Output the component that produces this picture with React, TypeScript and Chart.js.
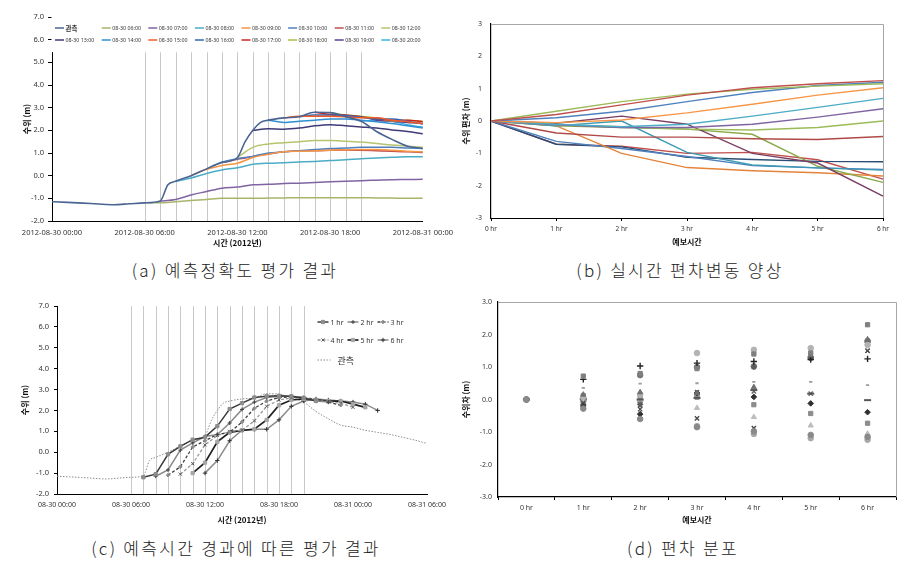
import React, { useEffect, useRef } from 'react';
import { Chart, registerables } from 'chart.js';
import { drawPoint } from 'chart.js/helpers';

Chart.register(...registerables);

const FONT = "'Noto Sans', 'Noto Sans CJK KR', sans-serif";
const KFONT = "'Noto Sans CJK KR', 'Noto Sans', sans-serif";

// ---------------- (a)/(c) observed water level ----------------
const obsHours = [0, 1, 2, 3, 4, 5, 6, 7, 7.5, 8, 9, 10, 11, 12, 12.5, 13, 13.5, 14, 15, 16, 17, 18, 19, 20, 21, 22, 23, 24, 25, 26, 27, 28, 29, 30];
const obsLevel = [-1.15, -1.18, -1.21, -1.25, -1.28, -1.24, -1.2, -1.12, -0.4, -0.25, 0.0, 0.3, 0.58, 0.8, 1.5, 2.0, 2.35, 2.45, 2.55, 2.6, 2.8, 2.78, 2.6, 2.4, 1.95, 1.6, 1.3, 1.2, 1.05, 0.95, 0.85, 0.72, 0.58, 0.42];

// forecasts issued every hour (hourly values from the issue hour onward)
const issueHours = [6, 7, 8, 9, 10, 11, 12, 13, 14, 15, 16, 17, 18, 19, 20];
const fc0600 = [-1.2, -1.2, -1.15, -1.1, -1.05, -1.0, -1.0, -1.0, -0.99, -0.98, -0.97, -0.97, -0.97, -0.97, -0.97, -0.98, -0.99, -1.0, -1.0];
const fc0700 = [-1.12, -1.05, -0.85, -0.7, -0.55, -0.5, -0.4, -0.38, -0.35, -0.33, -0.3, -0.27, -0.25, -0.22, -0.2, -0.18, -0.17, -0.16];
const fc0800 = [-0.25, -0.1, 0.1, 0.25, 0.35, 0.5, 0.55, 0.57, 0.6, 0.63, 0.67, 0.7, 0.75, 0.78, 0.81, 0.83, 0.83];
const fc0900 = [0.0, 0.28, 0.45, 0.55, 0.8, 0.95, 1.05, 1.08, 1.1, 1.12, 1.14, 1.15, 1.15, 1.12, 1.08, 1.05];
const fc1000 = [0.3, 0.6, 0.75, 0.85, 1.0, 1.05, 1.1, 1.15, 1.2, 1.22, 1.25, 1.25, 1.25, 1.22, 1.2];
const fc1100 = [0.58, 0.72, 0.85, 0.95, 1.05, 1.1, 1.1, 1.12, 1.13, 1.12, 1.1, 1.08, 1.05, 1.02];
const fc1200 = [0.8, 1.25, 1.4, 1.45, 1.5, 1.55, 1.55, 1.52, 1.48, 1.42, 1.35, 1.3, 1.25];
const fc1300 = [2.0, 2.07, 2.05, 2.1, 2.2, 2.25, 2.2, 2.15, 2.1, 2.02, 1.95, 1.85];
const fc1400 = [2.45, 2.35, 2.4, 2.45, 2.5, 2.5, 2.45, 2.38, 2.3, 2.2, 2.1];
const fc1500 = [2.55, 2.62, 2.62, 2.62, 2.6, 2.55, 2.55, 2.45, 2.38, 2.3];
const fc1600 = [2.6, 2.68, 2.68, 2.65, 2.58, 2.5, 2.5, 2.4, 2.28];
const fc1700 = [2.8, 2.7, 2.68, 2.6, 2.5, 2.45, 2.45, 2.38];
const fc1800 = [2.78, 2.68, 2.62, 2.55, 2.42, 2.45, 2.4];
const fc1900 = [2.6, 2.6, 2.45, 2.4, 2.35, 2.3, 2.3];
const fc2000 = [2.4, 2.45, 2.4, 2.25, 2.15, 2.15, 2.0];
const forecasts = [fc0600, fc0700, fc0800, fc0900, fc1000, fc1100, fc1200, fc1300, fc1400, fc1500, fc1600, fc1700, fc1800, fc1900, fc2000];
const forecastLabels = ['08-30 06:00', '08-30 07:00', '08-30 08:00', '08-30 09:00', '08-30 10:00', '08-30 11:00', '08-30 12:00', '08-30 13:00', '08-30 14:00', '08-30 15:00', '08-30 16:00', '08-30 17:00', '08-30 18:00', '08-30 19:00', '08-30 20:00'];
const forecastColors = ['#A8B56A', '#8064A2', '#4BACC6', '#F79646', '#4F81BD', '#C0504D', '#B5C46E', '#3F3A78', '#2F8FD0', '#F05A28', '#3566B0', '#D02525', '#A3C244', '#5E3F92', '#3DB5E2'];
const obsLabel = '관측';
const obsColor = '#4A6592';

const tickHoursA = [0, 6, 12, 18, 24];
const tickLabelsA = ['2012-08-30 00:00', '2012-08-30 06:00', '2012-08-30 12:00', '2012-08-30 18:00', '2012-08-31 00:00'];
const tickHoursC = [0, 6, 12, 18, 24, 30];
const tickLabelsC = ['08-30 00:00', '08-30 06:00', '08-30 12:00', '08-30 18:00', '08-31 00:00', '08-31 06:00'];
const leadSteps = [1, 2, 3, 4, 5, 6];
const leadNames = ['1 hr', '2 hr', '3 hr', '4 hr', '5 hr', '6 hr'];

// ---------------- (b) deviation vs lead time ----------------
const leadLabels = ['0 hr', '1 hr', '2 hr', '3 hr', '4 hr', '5 hr', '6 hr'];
const dev01 = [0, 0.2, 0.5, 0.8, 1.03, 1.15, 1.25];
const dev02 = [0, 0.3, 0.6, 0.83, 0.98, 1.08, 1.15];
const dev03 = [0, 0.1, 0.3, 0.6, 0.88, 1.1, 1.2];
const dev04 = [0, -0.05, 0.03, 0.25, 0.52, 0.8, 1.03];
const dev05 = [0, -0.1, -0.18, -0.1, 0.15, 0.42, 0.7];
const dev06 = [0, -0.12, -0.2, -0.2, -0.1, 0.12, 0.38];
const dev07 = [0, -0.12, -0.18, -0.25, -0.28, -0.2, 0.0];
const dev08 = [0, -0.37, -0.5, -0.5, -0.55, -0.57, -0.48];
const dev09 = [0, -0.07, 0.15, -0.1, -1.0, -1.3, -2.32];
const dev10 = [0, -0.15, 0.0, -0.97, -1.36, -1.45, -1.52];
const dev11 = [0, -0.15, -0.2, -0.25, -0.41, -1.4, -1.9];
const dev12 = [0, -0.15, -1.0, -1.44, -1.54, -1.6, -1.7];
const dev13 = [0, -0.63, -0.85, -1.1, -1.38, -1.45, -1.5];
const dev14 = [0, -0.72, -0.8, -1.12, -1.19, -1.25, -1.26];
const dev15 = [0, -0.72, -0.78, -1.0, -0.97, -1.2, -1.8];
const devSeries = [dev01, dev02, dev03, dev04, dev05, dev06, dev07, dev08, dev09, dev10, dev11, dev12, dev13, dev14, dev15];
const devColors = ['#C0504D', '#9BBB59', '#4F81BD', '#F79646', '#4BACC6', '#8064A2', '#9BBB59', '#B04A47', '#7B3F63', '#3C9AB2', '#8AAA4A', '#E3843A', '#4F81BD', '#2C4D75', '#C0504D'];

// ---------------- (d) deviation distribution ----------------
const dist01 = [0, -0.28, -0.6, -0.85, -0.98, -1.09, -1.15];
const dist02 = [0, 0.72, 0.8, 0.95, 1.4, 1.43, 2.3];
const dist03 = [0, 0.15, 0.22, 0.2, 0.38, 1.36, 1.85];
const dist04 = [0, -0.1, -0.3, -0.58, -0.88, 1.36, 1.5];
const dist05 = [0, -0.2, -0.45, 0.2, 0.08, -0.12, -0.39];
const dist06 = [0, 0.07, 0.15, 1.43, 1.53, 1.58, 1.68];
const dist07 = [0, 0.62, 1.03, 1.12, 1.17, 1.23, 1.25];
const dist08 = [0, 0.36, 0.49, 0.5, 0.54, 0.54, 0.44];
const dist09 = [0, 0.02, 0.0, 0.05, 0.29, 0.18, -0.02];
const dist10 = [0, 0.12, 0.1, 0.07, -0.16, -0.43, -0.73];
const dist11 = [0, -0.02, 0.05, -0.26, -0.54, -0.8, -1.05];
const dist12 = [0, -0.15, -0.15, 0.15, 1.0, 1.31, 1.76];
const dist13 = [0, -0.02, 0.75, 1.0, 1.02, 1.28, 1.8];
const dist14 = [0, -0.05, -0.05, -0.82, -1.06, -1.19, -1.24];
const dist15 = [0, -0.18, -0.18, 0.23, 0.25, 0.18, 1.5];
const distSeries = [dist01, dist02, dist03, dist04, dist05, dist06, dist07, dist08, dist09, dist10, dist11, dist12, dist13, dist14, dist15];
const distMarkers = [
  { style: 'circle', color: '#8a8a8a', r: 2.8, w: 1 },
  { style: 'rect', color: '#7f7f7f', r: 3, w: 1 },
  { style: 'triangle', color: '#6f6f6f', r: 3, w: 1 },
  { style: 'crossRot', color: '#4a4a4a', r: 3, w: 1.4 },
  { style: 'rectRot', color: '#303030', r: 2.8, w: 1 },
  { style: 'circle', color: '#b3b3b3', r: 2.8, w: 1 },
  { style: 'cross', color: '#222222', r: 3.2, w: 1.4 },
  { style: 'line', color: '#9a9a9a', r: 1.6, w: 1.8 },
  { style: 'line', color: '#555555', r: 3.5, w: 2 },
  { style: 'rect', color: '#8c8c8c', r: 3, w: 1 },
  { style: 'triangle', color: '#bdbdbd', r: 3, w: 1 },
  { style: 'star', color: '#5a5a5a', r: 3, w: 1.2 },
  { style: 'circle', color: '#777777', r: 2.8, w: 1 },
  { style: 'circle', color: '#a9a9a9', r: 2.8, w: 1 },
  { style: 'crossRot', color: '#666666', r: 3, w: 1.4 },
];

// ---------------- (c) lead series styles ----------------
const leadStyles = [
  { color: '#3a3a3a', width: 1.5, dash: [], point: 'rect', pointColor: '#8c8c8c', r: 2.3 },
  { color: '#8a8a8a', width: 1.5, dash: [], point: 'cross', pointColor: '#404040', r: 2 },
  { color: '#404040', width: 1.3, dash: [3, 2], point: 'rectRot', pointColor: '#8c8c8c', r: 1.8 },
  { color: '#9a9a9a', width: 1.3, dash: [3, 2], point: 'crossRot', pointColor: '#595959', r: 2.2 },
  { color: '#202020', width: 1.7, dash: [], point: 'rect', pointColor: '#a6a6a6', r: 2.3 },
  { color: '#8c8c8c', width: 1.5, dash: [], point: 'cross', pointColor: '#303030', r: 2.2 },
];

// ---------------- helpers ----------------
const tf = (size: number, weight?: string) => ({ family: FONT, size, weight: weight as any });
const titleFont = { family: KFONT, size: 8, weight: 'bold' as any };

function vLines(hours: number[], topValue: number | null, color: string) {
  return {
    id: 'vlines',
    beforeDatasetsDraw(chart: any) {
      const { ctx, chartArea, scales } = chart;
      const top = topValue == null ? chartArea.top : scales.y.getPixelForValue(topValue);
      ctx.save();
      ctx.strokeStyle = color;
      ctx.lineWidth = 1;
      hours.forEach((h) => {
        const px = Math.round(scales.x.getPixelForValue(h)) + 0.5;
        ctx.beginPath();
        ctx.moveTo(px, top);
        ctx.lineTo(px, chartArea.bottom);
        ctx.stroke();
      });
      ctx.restore();
    },
  };
}

const frameTR = {
  id: 'frameTR',
  beforeDatasetsDraw(chart: any) {
    const { ctx, chartArea } = chart;
    ctx.save();
    ctx.strokeStyle = '#a6a6a6';
    ctx.lineWidth = 1;
    ctx.beginPath();
    ctx.moveTo(chartArea.left, Math.round(chartArea.top) + 0.5);
    ctx.lineTo(Math.round(chartArea.right) + 0.5, Math.round(chartArea.top) + 0.5);
    ctx.lineTo(Math.round(chartArea.right) + 0.5, chartArea.bottom);
    ctx.stroke();
    ctx.restore();
  },
};

const legendA = {
  id: 'legendA',
  afterDraw(chart: any) {
    const { ctx, chartArea, scales } = chart;
    const yb = scales.y.getPixelForValue(5.45);
    ctx.save();
    ctx.fillStyle = '#ffffff';
    ctx.fillRect(chartArea.left - 0.5, chartArea.top - 1, chartArea.right - chartArea.left + 2, yb - chartArea.top + 1);
    const items = [{ label: obsLabel, color: obsColor }, ...forecastLabels.map((l, i) => ({ label: l, color: forecastColors[i] }))];
    items.forEach((it, idx) => {
      const row = idx < 8 ? 0 : 1;
      const col = idx % 8;
      const x = chartArea.left + (col === 0 ? 3 : 49.7 + (col - 1) * 46.6);
      const y = chartArea.top + (row === 0 ? 11 : 23);
      ctx.strokeStyle = it.color;
      ctx.lineWidth = 1.5;
      ctx.beginPath();
      ctx.moveTo(x, y);
      ctx.lineTo(x + 9, y);
      ctx.stroke();
      ctx.fillStyle = '#333';
      ctx.font = idx === 0 ? `bold 6.5px ${KFONT}` : `5.3px ${FONT}`;
      ctx.textBaseline = 'middle';
      ctx.textAlign = 'left';
      ctx.fillText(it.label, x + 10.5, y + 0.5);
    });
    ctx.restore();
  },
};

const legendC = {
  id: 'legendC',
  afterDraw(chart: any) {
    const { ctx, chartArea } = chart;
    const left = chartArea.left + 246.5;
    const top = chartArea.top;
    ctx.save();
    leadNames.forEach((name, i) => {
      const st = leadStyles[i];
      const x = left + 14 + (i % 3) * 30;
      const y = top + (i < 3 ? 16 : 34);
      ctx.strokeStyle = st.color;
      ctx.lineWidth = st.width;
      ctx.setLineDash(st.dash);
      ctx.beginPath();
      ctx.moveTo(x, y);
      ctx.lineTo(x + 11, y);
      ctx.stroke();
      ctx.setLineDash([]);
      ctx.fillStyle = st.pointColor;
      ctx.strokeStyle = st.pointColor;
      ctx.lineWidth = 1;
      drawPoint(ctx, { pointStyle: st.point as any, radius: st.r, rotation: 0, borderWidth: 1 } as any, x + 5.5, y);
      ctx.fillStyle = '#333';
      ctx.font = `7px ${FONT}`;
      ctx.textBaseline = 'middle';
      ctx.textAlign = 'left';
      ctx.fillText(name, x + 13, y + 0.5);
    });
    const y3 = top + 54;
    const x3 = left + 14;
    ctx.strokeStyle = '#8c8c8c';
    ctx.lineWidth = 1;
    ctx.setLineDash([1.5, 1.5]);
    ctx.beginPath();
    ctx.moveTo(x3, y3);
    ctx.lineTo(x3 + 13, y3);
    ctx.stroke();
    ctx.setLineDash([]);
    ctx.fillStyle = '#333';
    ctx.font = `9px ${KFONT}`;
    ctx.textBaseline = 'middle';
    ctx.fillText(obsLabel, x3 + 20, y3 + 0.5);
    ctx.restore();
  },
};

// ---------------- chart configs ----------------
function configA(): any {
  const datasets: any[] = [
    {
      label: obsLabel,
      data: obsHours.map((h, i) => ({ x: h, y: obsLevel[i] })),
      borderColor: obsColor,
      borderWidth: 1.6,
    },
    ...forecasts.map((arr, i) => ({
      label: forecastLabels[i],
      data: arr.map((v, k) => ({ x: issueHours[i] + k, y: v })),
      borderColor: forecastColors[i],
      borderWidth: 1.5,
    })),
  ];
  datasets.forEach((d) => {
    d.pointRadius = 0;
    d.cubicInterpolationMode = 'monotone';
    d.fill = false;
  });
  return {
    type: 'line',
    data: { datasets },
    options: {
      responsive: false,
      animation: false,
      layout: { padding: { top: 17, right: 36, left: 0, bottom: 0 } },
      plugins: { legend: { display: false }, tooltip: { enabled: false } },
      scales: {
        x: {
          type: 'linear', min: 0, max: 24,
          ticks: { stepSize: 6, autoSkip: false, maxRotation: 0, padding: 7, font: tf(7.5), color: '#333',
            callback: (v: any) => { const i = tickHoursA.indexOf(Number(v)); return i >= 0 ? tickLabelsA[i] : ''; } },
          grid: { drawOnChartArea: false, drawTicks: false },
          border: { color: '#000', width: 1 },
          title: { display: true, text: '시간 (2012년)', font: titleFont, color: '#111', padding: { top: 0, bottom: 4 } },
          afterFit: (s: any) => { s.height = 31; },
        },
        y: {
          min: -2, max: 7,
          ticks: { stepSize: 1, padding: 4, font: tf(7.5), color: '#333', callback: (v: any) => Number(v).toFixed(1) },
          grid: { drawOnChartArea: false, drawTicks: true, tickLength: 4, color: '#000' },
          border: { color: '#000', width: 1 },
          title: { display: true, text: '수위 (m)', font: titleFont, color: '#111', padding: { top: 22, bottom: 0 } },
          afterFit: (s: any) => { s.width = 52; },
        },
      },
    },
    plugins: [vLines(issueHours, 5.45, '#c8c8c8'), legendA],
  };
}

function configB(): any {
  return {
    type: 'line',
    data: {
      labels: leadLabels,
      datasets: devSeries.map((arr, i) => ({
        label: 'S' + (i + 1),
        data: arr,
        borderColor: devColors[i],
        borderWidth: 1.4,
        pointRadius: 0,
        tension: 0,
        fill: false,
      })),
    },
    options: {
      responsive: false,
      animation: false,
      layout: { padding: { top: 24, right: 25, left: 0, bottom: 0 } },
      plugins: { legend: { display: false }, tooltip: { enabled: false } },
      scales: {
        x: {
          type: 'category', offset: false,
          ticks: { padding: 4, font: tf(6.5), color: '#333', maxRotation: 0, autoSkip: false },
          grid: { drawOnChartArea: false, drawTicks: true, tickLength: 3, color: '#000' },
          border: { color: '#000', width: 1 },
          title: { display: true, text: '예보시간', font: titleFont, color: '#111', padding: { top: 0, bottom: 5 } },
          afterFit: (s: any) => { s.height = 34; },
        },
        y: {
          min: -3, max: 3,
          ticks: { stepSize: 1, padding: 9, font: tf(7), color: '#333' },
          grid: { drawOnChartArea: false, drawTicks: false },
          border: { color: '#000', width: 1.2 },
          title: { display: true, text: '수위 편차 (m)', font: titleFont, color: '#111', padding: { top: 1, bottom: 0 } },
          afterFit: (s: any) => { s.width = 31; },
        },
      },
    },
    plugins: [frameTR],
  };
}

function configC(): any {
  const datasets: any[] = leadSteps.map((k, li) => {
    const st = leadStyles[li];
    return {
      label: leadNames[li],
      data: forecasts.map((arr, i) => ({ x: issueHours[i] + k, y: arr[k] })),
      borderColor: st.color,
      borderWidth: st.width,
      borderDash: st.dash,
      pointStyle: st.point,
      pointRadius: st.r,
      pointBackgroundColor: st.pointColor,
      pointBorderColor: st.pointColor,
      pointBorderWidth: 1,
      tension: 0,
      fill: false,
    };
  });
  datasets.push({
    label: obsLabel,
    data: obsHours.map((h, i) => ({ x: h, y: obsLevel[i] })),
    borderColor: '#8c8c8c',
    borderWidth: 1,
    borderDash: [1.5, 1.5],
    pointRadius: 0,
    cubicInterpolationMode: 'monotone',
    fill: false,
  });
  return {
    type: 'line',
    data: { datasets },
    options: {
      responsive: false,
      animation: false,
      layout: { padding: { top: 21, right: 33, left: 0, bottom: 0 } },
      plugins: { legend: { display: false }, tooltip: { enabled: false } },
      scales: {
        x: {
          type: 'linear', min: 0, max: 30,
          ticks: { stepSize: 6, autoSkip: false, maxRotation: 0, padding: 7, font: tf(7), color: '#333',
            callback: (v: any) => { const i = tickHoursC.indexOf(Number(v)); return i >= 0 ? tickLabelsC[i] : ''; } },
          grid: { drawOnChartArea: false, drawTicks: false },
          border: { color: '#000', width: 1 },
          title: { display: true, text: '시간 (2012년)', font: titleFont, color: '#111', padding: { top: 0, bottom: 5 } },
          afterFit: (s: any) => { s.height = 36; },
        },
        y: {
          min: -2, max: 7,
          ticks: { stepSize: 1, padding: 5, font: tf(7.5), color: '#333', callback: (v: any) => Number(v).toFixed(1) },
          grid: { drawOnChartArea: false, drawTicks: true, tickLength: 3, color: '#000' },
          border: { color: '#000', width: 1 },
          title: { display: true, text: '수위 (m)', font: titleFont, color: '#111', padding: { top: 20, bottom: 0 } },
          afterFit: (s: any) => { s.width = 57; },
        },
      },
    },
    plugins: [vLines(issueHours, null, '#c8c8c8'), legendC],
  };
}

function configD(): any {
  return {
    type: 'line',
    data: {
      labels: leadLabels,
      datasets: distSeries.map((arr, i) => {
        const m = distMarkers[i];
        return {
          label: 'D' + (i + 1),
          data: arr,
          showLine: false,
          pointStyle: m.style,
          pointRadius: m.r,
          pointBackgroundColor: m.color,
          pointBorderColor: m.color,
          pointBorderWidth: m.w,
        };
      }),
    },
    options: {
      responsive: false,
      animation: false,
      layout: { padding: { top: 17, right: 12, left: 0, bottom: 0 } },
      plugins: { legend: { display: false }, tooltip: { enabled: false } },
      scales: {
        x: {
          type: 'category', offset: true,
          ticks: { padding: 4, font: tf(7), color: '#333', maxRotation: 0, autoSkip: false },
          grid: { offset: true, drawOnChartArea: false, drawTicks: true, tickLength: 3, color: '#000' },
          border: { color: '#000', width: 1.2 },
          title: { display: true, text: '예보시간', font: titleFont, color: '#111', padding: { top: 0, bottom: 5 } },
          afterFit: (s: any) => { s.height = 33; },
        },
        y: {
          min: -3, max: 3,
          ticks: { stepSize: 1, padding: 6, font: tf(7), color: '#333', callback: (v: any) => Number(v).toFixed(1) },
          grid: { drawOnChartArea: false, drawTicks: false },
          border: { color: '#000', width: 1.2 },
          title: { display: true, text: '수위차 (m)', font: titleFont, color: '#111', padding: { top: 1, bottom: 0 } },
          afterFit: (s: any) => { s.width = 38; },
        },
      },
    },
    plugins: [frameTR],
  };
}

function ChartBox(props: { left: number; top: number; width: number; height: number; make: () => any }) {
  const ref = useRef<HTMLCanvasElement>(null);
  useEffect(() => {
    const chart = new Chart(ref.current as HTMLCanvasElement, props.make());
    return () => chart.destroy();
  }, []);
  return (
    <div style={{ position: 'absolute', left: props.left, top: props.top, width: props.width, height: props.height }}>
      <canvas ref={ref} width={props.width} height={props.height} style={{ width: props.width, height: props.height, display: 'block' }} />
    </div>
  );
}

function Caption(props: { cx: number; cy: number; text: string }) {
  return (
    <div
      style={{
        position: 'absolute', left: props.cx - 220, top: props.cy - 11, width: 440, height: 22,
        textAlign: 'center', fontFamily: KFONT,
        fontSize: 17, lineHeight: '22px', color: '#222', letterSpacing: 2.3, whiteSpace: 'nowrap', fontWeight: 300,
      }}
    >
      {props.text}
    </div>
  );
}

export default function App() {
  Chart.defaults.font.family = FONT;
  return (
    <div style={{ position: 'absolute', left: 0, top: 0, width: 908, height: 570, background: '#fff', overflow: 'hidden' }}>
      <ChartBox left={0} top={0} width={460} height={252} make={configA} />
      <ChartBox left={460} top={0} width={448} height={252} make={configB} />
      <ChartBox left={0} top={285} width={460} height={245} make={configC} />
      <ChartBox left={460} top={285} width={448} height={245} make={configD} />
      <Caption cx={235} cy={270} text="(a) 예측정확도 평가 결과" />
      <Caption cx={680} cy={270} text="(b) 실시간 편차변동 양상" />
      <Caption cx={236} cy={548} text="(c) 예측시간 경과에 따른 평가 결과" />
      <Caption cx={683} cy={548} text="(d) 편차 분포" />
    </div>
  );
}
